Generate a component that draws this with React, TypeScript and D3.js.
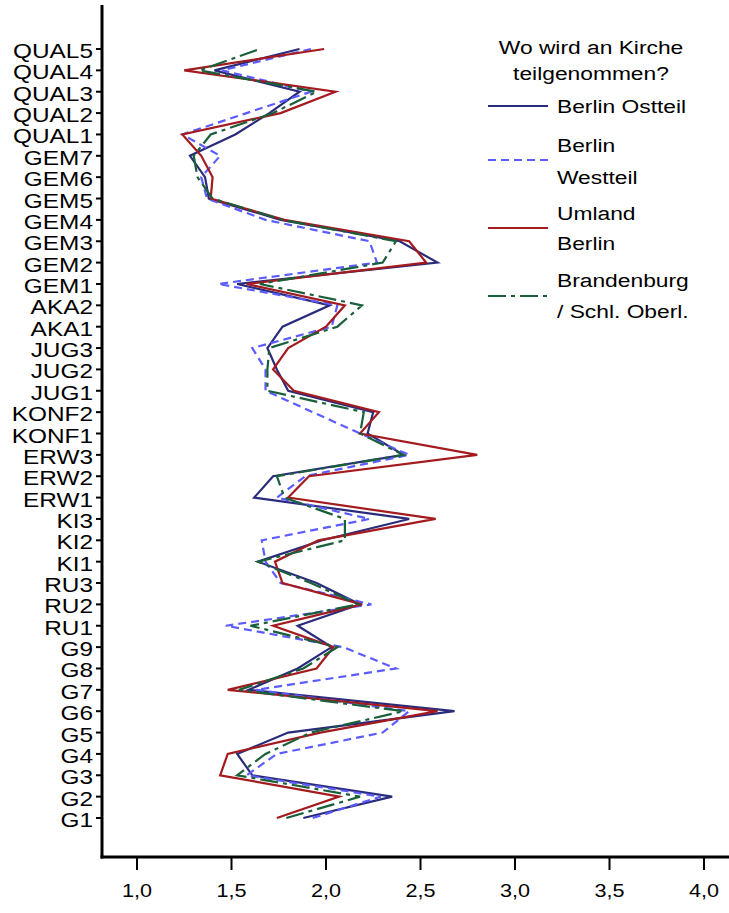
import React from "react";
import * as d3 from "d3";

const categories = ["G1","G2","G3","G4","G5","G6","G7","G8","G9","RU1","RU2","RU3","KI1","KI2","KI3","ERW1","ERW2","ERW3","KONF1","KONF2","JUG1","JUG2","JUG3","AKA1","AKA2","GEM1","GEM2","GEM3","GEM4","GEM5","GEM6","GEM7","QUAL1","QUAL2","QUAL3","QUAL4","QUAL5"];

const berlinOst = [1.88,2.35,1.61,1.53,1.80,2.68,1.59,1.85,2.03,1.85,2.18,1.95,1.64,1.98,2.44,1.62,1.72,2.41,2.22,2.25,1.80,1.74,1.69,1.77,2.02,1.53,2.59,2.39,1.76,1.38,1.36,1.28,1.52,1.70,1.86,1.41,1.86];
const berlinWest = [1.93,2.29,1.58,1.74,2.30,2.44,1.63,2.37,2.09,1.47,2.24,1.76,1.68,1.66,2.23,1.74,1.89,2.44,2.18,1.93,1.68,1.68,1.61,2.03,2.06,1.43,2.27,2.23,1.68,1.37,1.34,1.44,1.24,1.58,1.92,1.45,1.92];
const umland = [1.74,2.07,1.44,1.48,1.97,2.59,1.48,1.95,2.04,1.72,2.19,1.77,1.73,1.96,2.58,1.80,1.91,2.80,2.18,2.28,1.83,1.72,1.80,2.00,2.10,1.58,2.53,2.44,1.78,1.39,1.40,1.34,1.24,1.76,2.05,1.25,1.99];
const brandenburg = [1.79,2.18,1.53,1.68,1.92,2.41,1.54,1.88,2.06,1.60,2.17,1.92,1.64,2.10,2.10,1.78,1.74,2.41,2.18,2.20,1.69,1.69,1.70,2.06,2.19,1.65,2.30,2.37,1.77,1.40,1.32,1.30,1.39,1.72,1.95,1.33,1.65];

const xTicks = [1.0, 1.5, 2.0, 2.5, 3.0, 3.5, 4.0];
const legendTitle = ["Wo wird an Kirche", "teilgenommen?"];
const seriesNames = [["Berlin Ostteil"], ["Berlin", "Westteil"], ["Umland", "Berlin"], ["Brandenburg", "/ Schl. Oberl."]];

const series = [
  { values: berlinOst, color: "#2b2b7b", dash: "none" },
  { values: berlinWest, color: "#5b5bff", dash: "8,5" },
  { values: umland, color: "#a31a1f", dash: "none" },
  { values: brandenburg, color: "#19603a", dash: "18,5,4,5" },
];

const FONT = "'Liberation Sans', Arial, sans-serif";

function T({ x, y, anchor = "start", size = 18, sx = 1.2, children }: any) {
  return (
    <text
      transform={`translate(${x},${y}) scale(${sx},1)`}
      textAnchor={anchor}
      fontSize={size}
      fontFamily={FONT}
      fill="#000"
    >
      {children}
    </text>
  );
}

export default function App() {
  const W = 729, H = 913;
  const axisX = 102, axisBottom = 857, axisTop = 5;
  const x = d3.scaleLinear().domain([1, 4]).range([137, 704]);
  const y = d3.scalePoint<string>().domain(categories).range([818, 49]);

  const line = d3
    .line<number>()
    .x((d) => x(d))
    .y((_, i) => y(categories[i]) as number);

  const legendRows = [106, 160, 228, 296];
  const legendTextY = [[113], [152, 184], [220, 250], [287, 318]];

  return (
    <svg width={W} height={H} style={{ position: "absolute", left: 0, top: 0, background: "#fff" }}>
      <rect x={0} y={0} width={W} height={H} fill="#fff" />
      {series.map((s, k) => (
        <path
          key={k}
          d={line(s.values) || ""}
          fill="none"
          stroke={s.color}
          strokeWidth={2.2}
          strokeDasharray={s.dash}
          strokeLinejoin="miter"
        />
      ))}
      {/* axes */}
      <line x1={axisX} x2={axisX} y1={axisTop} y2={axisBottom + 1.5} stroke="#000" strokeWidth={3} />
      <line x1={axisX - 1.5} x2={W} y1={axisBottom} y2={axisBottom} stroke="#000" strokeWidth={3} />
      {categories.map((c) => (
        <g key={c}>
          <line x1={axisX - 6} x2={axisX} y1={y(c)} y2={y(c)} stroke="#000" strokeWidth={2} />
          <T x={93} y={(y(c) as number) + 9} anchor="end" size={20} sx={1.22}>{c}</T>
        </g>
      ))}
      {xTicks.map((t) => (
        <g key={t}>
          <line x1={x(t)} x2={x(t)} y1={axisBottom} y2={axisBottom + 13} stroke="#000" strokeWidth={2} />
          <T x={x(t)} y={897} anchor="middle">{d3.format(".1f")(t).replace(".", ",")}</T>
        </g>
      ))}
      {/* legend */}
      {legendTitle.map((t, i) => (
        <T key={t} x={591} y={54 + i * 26} anchor="middle" size={19}>{t}</T>
      ))}
      {series.map((s, k) => (
        <g key={k}>
          <line x1={488} x2={548} y1={legendRows[k]} y2={legendRows[k]} stroke={s.color} strokeWidth={2.2} strokeDasharray={s.dash} />
          {seriesNames[k].map((n, j) => (
            <T key={j} x={557} y={legendTextY[k][j]} size={19}>{n}</T>
          ))}
        </g>
      ))}
    </svg>
  );
}
